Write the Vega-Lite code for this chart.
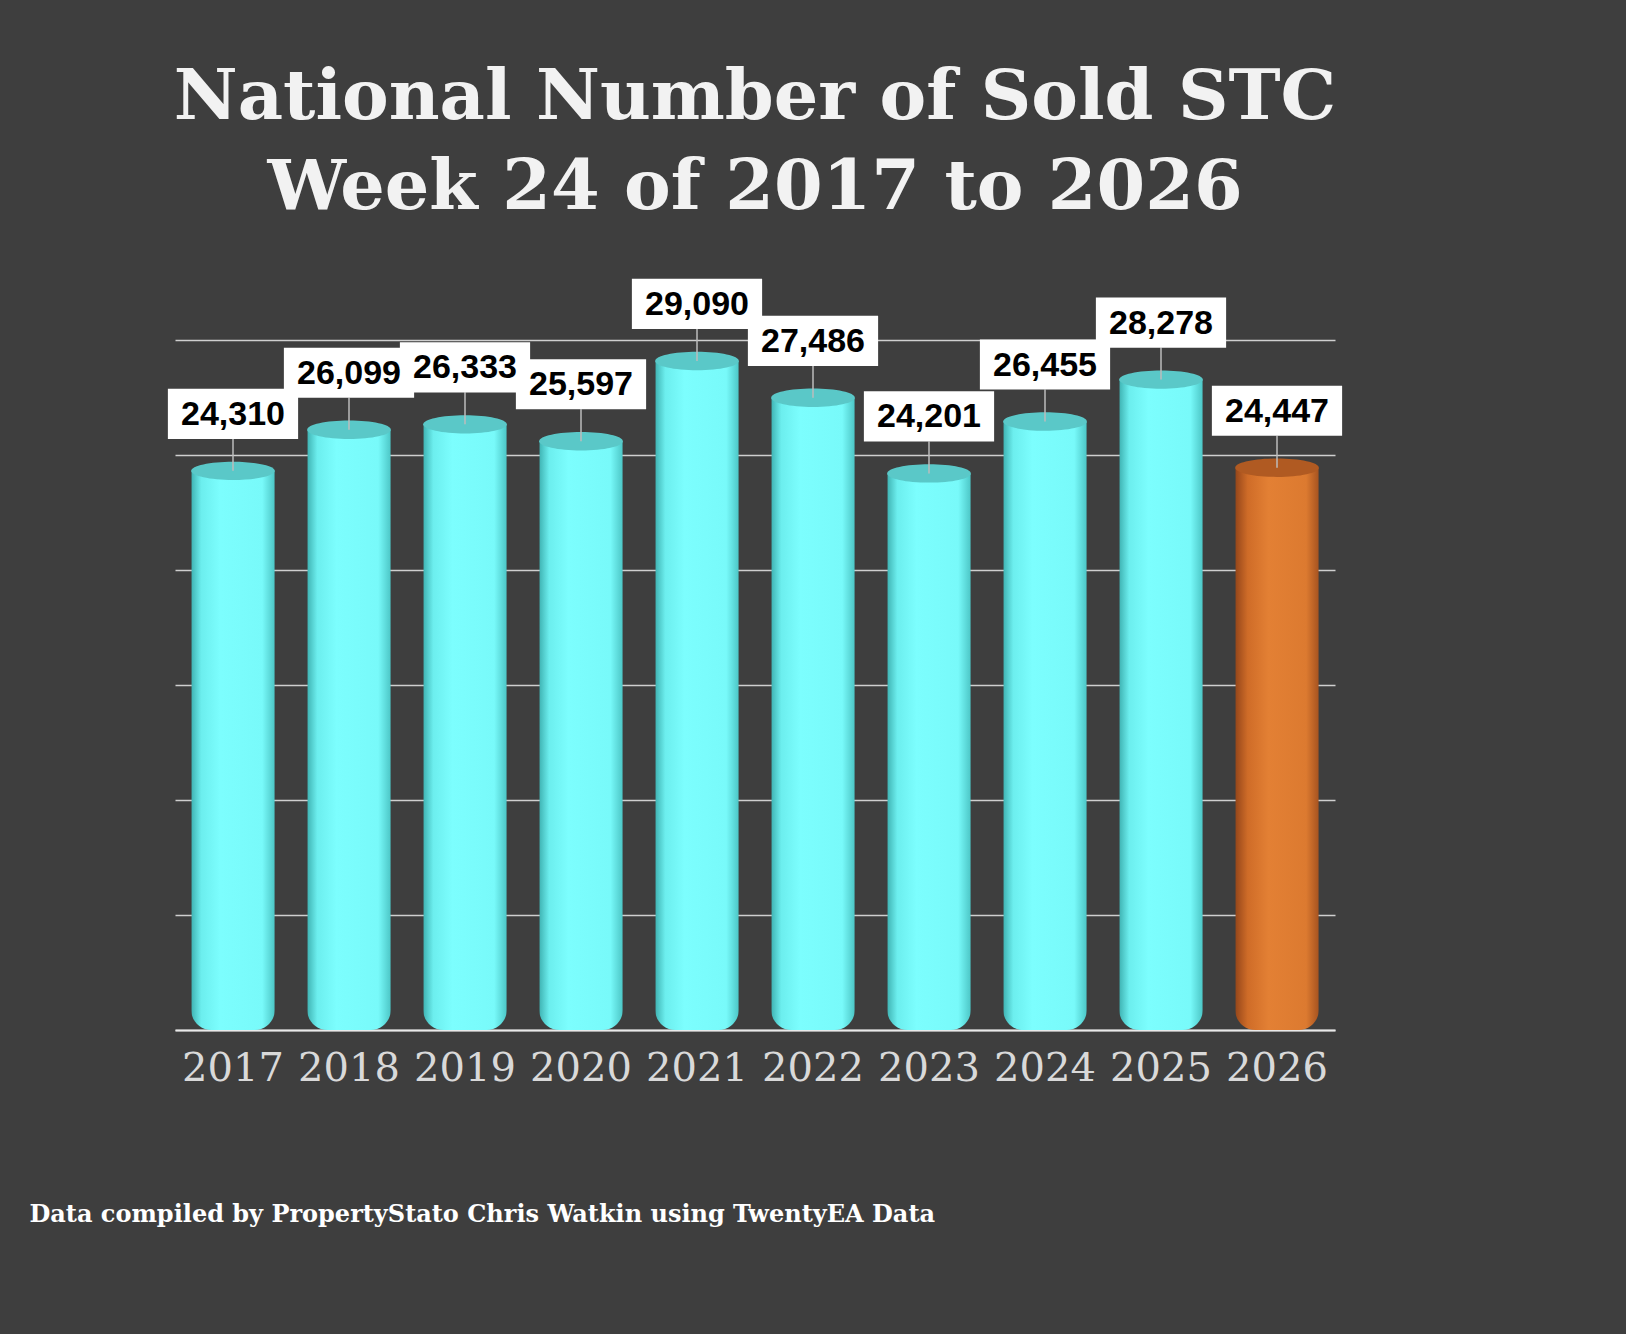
{
  "$schema": "https://vega.github.io/schema/vega-lite/v6.json",
  "autosize": "none",
  "width": 1160,
  "height": 690,
  "padding": {"left": 175, "top": 340, "right": 291, "bottom": 304},
  "background": "#3e3e3e",
  "title": {
    "text": ["National Number of  Sold STC", "Week 24 of 2017 to 2026"],
    "font": "DejaVu Serif",
    "fontSize": 70,
    "fontWeight": "bold",
    "color": "#f2f2f2",
    "lineHeight": 90,
    "anchor": "middle",
    "frame": "group",
    "offset": 55
  },
  "data": {
    "values": [
      {"year": "2017", "value": 24310, "current": false},
      {"year": "2018", "value": 26099, "current": false},
      {"year": "2019", "value": 26333, "current": false},
      {"year": "2020", "value": 25597, "current": false},
      {"year": "2021", "value": 29090, "current": false},
      {"year": "2022", "value": 27486, "current": false},
      {"year": "2023", "value": 24201, "current": false},
      {"year": "2024", "value": 26455, "current": false},
      {"year": "2025", "value": 28278, "current": false},
      {"year": "2026", "value": 24447, "current": true}
    ]
  },
  "encoding": {
    "x": {
      "field": "year",
      "type": "nominal",
      "sort": null,
      "scale": {"paddingInner": 0.28, "paddingOuter": 0.14},
      "axis": {
        "title": "Data compiled by PropertyStato Chris Watkin using TwentyEA Data",
        "titleFont": "DejaVu Serif",
        "titleFontSize": 24,
        "titleFontWeight": "bold",
        "titleColor": "#ffffff",
        "titleAnchor": "start",
        "titleAlign": "left",
        "titleBaseline": "alphabetic",
        "titleX": -146,
        "titleY": 191,
        "labelAngle": 0,
        "labelFont": "DejaVu Serif",
        "labelFontSize": 40,
        "labelColor": "#d9d9d9",
        "labelPadding": 18,
        "ticks": false,
        "domainColor": "#e8e8e8",
        "domainWidth": 2
      }
    },
    "y": {
      "field": "value",
      "type": "quantitative",
      "scale": {"domain": [0, 30000], "nice": false},
      "axis": {
        "title": null,
        "labels": false,
        "ticks": false,
        "domain": false,
        "grid": true,
        "gridColor": "#cfcfcf",
        "gridWidth": 1.5,
        "values": [0, 5000, 10000, 15000, 20000, 25000, 30000]
      }
    }
  },
  "layer": [
    {
      "transform": [{"filter": "!datum.current"}],
      "mark": {
        "type": "bar",
        "cornerRadiusBottomLeft": 20,
        "cornerRadiusBottomRight": 20,
        "color": {
          "gradient": "linear",
          "x1": 0, "y1": 0, "x2": 1, "y2": 0,
          "stops": [
            {"offset": 0, "color": "#3fb3b3"},
            {"offset": 0.12, "color": "#6ceeee"},
            {"offset": 0.35, "color": "#7cfefe"},
            {"offset": 0.85, "color": "#78fafa"},
            {"offset": 1, "color": "#4cc6c6"}
          ]
        }
      }
    },
    {
      "transform": [{"filter": "datum.current"}],
      "mark": {
        "type": "bar",
        "cornerRadiusBottomLeft": 20,
        "cornerRadiusBottomRight": 20,
        "color": {
          "gradient": "linear",
          "x1": 0, "y1": 0, "x2": 1, "y2": 0,
          "stops": [
            {"offset": 0, "color": "#95461a"},
            {"offset": 0.15, "color": "#cf6c28"},
            {"offset": 0.4, "color": "#e38034"},
            {"offset": 0.85, "color": "#dc7a30"},
            {"offset": 1, "color": "#a65320"}
          ]
        }
      }
    },
    {
      "mark": {
        "type": "point",
        "shape": "M-1,0A1,0.22,0,1,0,1,0A1,0.22,0,1,0,-1,0Z",
        "size": 7000,
        "filled": true,
        "opacity": 1,
        "strokeWidth": 0
      },
      "encoding": {
        "color": {
          "condition": {"test": "datum.current", "value": "#b05a22"},
          "value": "#5ac8c8"
        }
      }
    },
    {
      "mark": {"type": "rule", "y2Offset": -32, "color": "#bdbdbd", "strokeWidth": 1.5},
      "encoding": {"y2": {"field": "value"}}
    },
    {
      "mark": {
        "type": "point",
        "shape": "M-1.48,-0.57H1.48V0.57H-1.48Z",
        "size": 7744,
        "filled": true,
        "opacity": 1,
        "color": "#ffffff",
        "strokeWidth": 0,
        "yOffset": -57
      }
    },
    {
      "mark": {
        "type": "text",
        "yOffset": -56,
        "baseline": "middle",
        "font": "Liberation Sans",
        "fontSize": 34,
        "fontWeight": "bold",
        "color": "#000000"
      },
      "encoding": {
        "text": {"field": "value", "type": "quantitative", "format": ","}
      }
    }
  ],
  "config": {"view": {"stroke": null}}
}
